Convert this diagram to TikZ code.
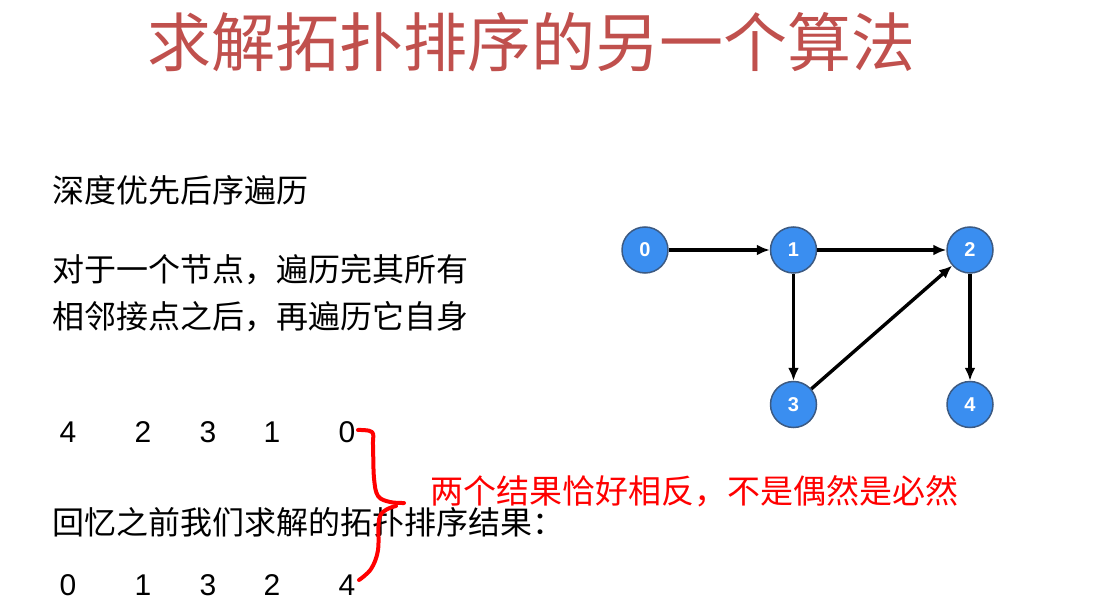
\documentclass[tikz,border=0pt]{standalone}
\usepackage{fontspec}
\setmainfont{Noto Sans CJK SC}
\newfontfamily\numfont{Liberation Sans}
\usetikzlibrary{arrows.meta, positioning}
\definecolor{titlered}{RGB}{192,80,77}
\definecolor{nodeblue}{RGB}{58,142,240}
\definecolor{nodeedge}{RGB}{60,90,130}

\begin{document}
\begin{tikzpicture}[>={Latex[length=13pt,width=11pt]}, x=1pt, y=-1pt, font=\fontsize{32}{38}\selectfont]
  \tikzset{
    title/.style={anchor=base, text=titlered, font=\fontsize{64}{76}\selectfont},
    line/.style={anchor=base west, inner sep=0pt},
    note/.style={anchor=base west, inner sep=0pt, text=red, font=\fontsize{33}{40}\selectfont},
    num/.style={anchor=base, inner sep=0pt, font=\numfont\fontsize{30}{36}\selectfont},
    circ/.style={circle, draw=nodeedge, fill=nodeblue, line width=1.5pt, minimum size=46pt,
      inner sep=0pt, text=white, font=\numfont\bfseries\fontsize{20}{22}\selectfont},
    link/.style={->, line width=3.4pt}
  }
  \useasboundingbox (0,0) rectangle (1097,612);

  \node[title] (title) at (531,67) {求解拓扑排序的另一个算法};

  \node[line] (dfs) at (52,203) {深度优先后序遍历};
  \node[line] (rule1) at (52,282) {对于一个节点，遍历完其所有};
  \node[line] (rule2) at (52,328) {相邻接点之后，再遍历它自身};

  \node[num] (a4) at (68,442) {4};
  \node[num] (a2) at (143,442) {2};
  \node[num] (a3) at (208,442) {3};
  \node[num] (a1) at (272,442) {1};
  \node[num] (a0) at (347,442) {0};

  \node[line] (recall) at (52,534) {回忆之前我们求解的拓扑排序结果：};

  \node[num] (b0) at (68,595) {0};
  \node[num] (b1) at (143,595) {1};
  \node[num] (b3) at (208,595) {3};
  \node[num] (b2) at (272,595) {2};
  \node[num] (b4) at (347,595) {4};

  % hand drawn brace
  \draw[red, line width=4pt, line cap=round, line join=round]
    plot[smooth, tension=0.6] coordinates {(358,430) (372,432) (373,445) (374,478) (378,496) (390,502) (404,503)};
  \draw[red, line width=4pt, line cap=round, line join=round]
    plot[smooth, tension=0.6] coordinates {(396,506) (380,516) (378,550) (371,569) (359,580)};
  \node[note] (remark) at (430,503) {两个结果恰好相反，不是偶然是必然};

  \node[circ] (v0) at (645,250) {0};
  \node[circ] (v1) [right=101pt of v0] {1};
  \node[circ] (v2) [right=129pt of v1] {2};
  \node[circ] (v3) [below=107pt of v1] {3};
  \node[circ] (v4) [below=107pt of v2] {4};

  \path[link] (v0) edge (v1);
  \path[link] (v1) edge (v2);
  \path[link] (v1) edge (v3);
  \path[link] (v3) edge (v2);
  \path[link] (v2) edge (v4);

\end{tikzpicture}
\end{document}
